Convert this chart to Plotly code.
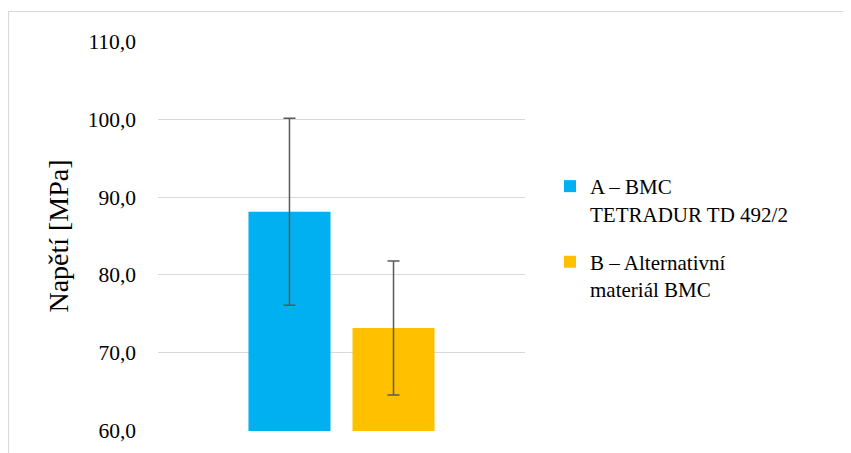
import plotly.graph_objects as go

category = [""]
series_names = ["A – BMC<br>TETRADUR TD 492/2", "B – Alternativní<br>materiál BMC"]
values_a = [88.1]
values_b = [73.2]
err_a = [12.0]
err_b = [8.6]
colors = ["#00B0F0", "#FFC000"]

fig = go.Figure()
for i, (name, vals, errs, col) in enumerate([(series_names[0], values_a, err_a, colors[0]),
                                              (series_names[1], values_b, err_b, colors[1])]):
    fig.add_trace(go.Bar(
        x=category, y=vals, name=name, legendgroup=f"g{i}",
        marker=dict(color=col, line=dict(width=0)),
        error_y=dict(type="data", array=errs, visible=True, color="#595959",
                     thickness=1.5, width=6),
    ))

OFF = 8  # page body offset
W, H = 851, 453
l, r, t, b = 158 - OFF, 326 + OFF, 41 - OFF, 22 + OFF
pw, ph = W - l - r, H - t - b
PB = H - b  # figure-pixel y of plot bottom

SERIF = "Liberation Serif"

fig.update_layout(
    width=W, height=H,
    margin=dict(l=l, r=r, t=t, b=b),
    paper_bgcolor="white", plot_bgcolor="white",
    separators=", ",
    barmode="group", bargap=0.433, bargroupgap=0.2115,
    font=dict(family=SERIF, size=21, color="black"),
    showlegend=True,
    legend=dict(x=(550 - OFF - l) / pw, y=(PB - (166 - OFF)) / ph, xanchor="left", yanchor="top",
                valign="top", font=dict(family=SERIF, size=21, color="black"),
                tracegroupgap=18, bgcolor="rgba(0,0,0,0)"),
    xaxis=dict(showticklabels=False, showgrid=False, zeroline=False, showline=False),
    yaxis=dict(range=[59.97, 110.03], tickvals=[60, 70, 80, 90, 100, 110], tickformat=".1f",
               showgrid=True, gridcolor="#d9d9d9", gridwidth=1.3,
               zeroline=False, showline=False, ticks="",
               ticklabelstandoff=21,
               tickfont=dict(family=SERIF, size=21.5, color="black"),
               title=dict(text="Napětí [MPa]", font=dict(family=SERIF, size=28, color="black"),
                          standoff=10)),
    shapes=[dict(type="rect", xref="paper", yref="paper",
                 x0=(8.5 - OFF - l) / pw, x1=(W + 10 - l) / pw,
                 y0=(PB - (H + 20)) / ph, y1=(PB - (11.5 - OFF)) / ph,
                 line=dict(color="#d9d9d9", width=1.2), fillcolor="rgba(0,0,0,0)",
                 layer="below")],
)

fig.write_html("out.html")
